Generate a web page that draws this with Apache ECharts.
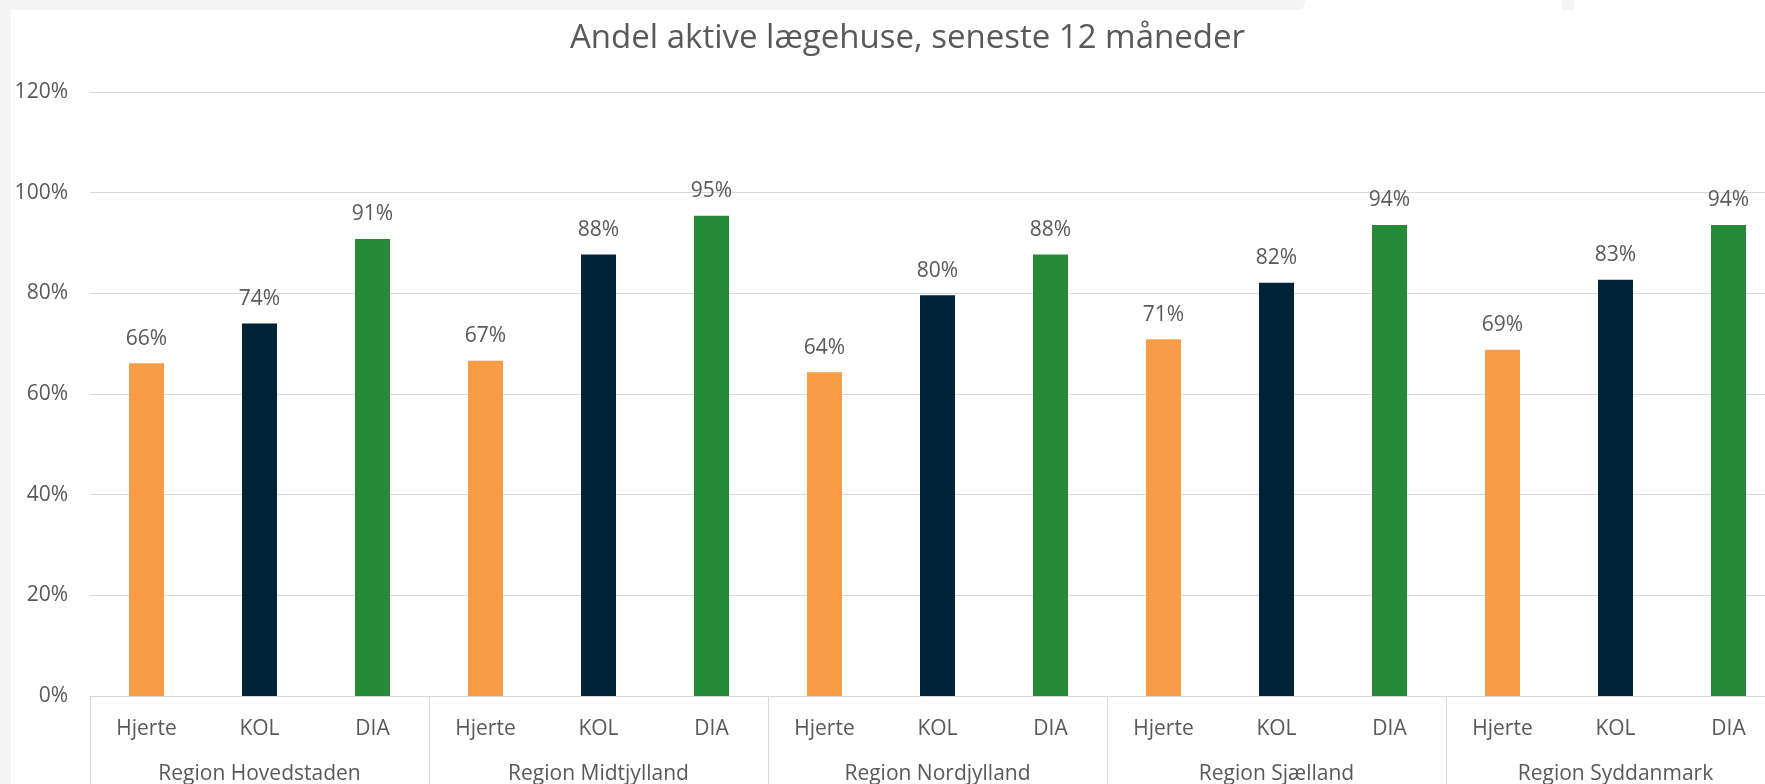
<!DOCTYPE html>
<html>
<head>
<meta charset="utf-8">
<script src="https://cdn.jsdelivr.net/npm/echarts@6/dist/echarts.min.js"></script>
<style>
  html, body { margin: 0; padding: 0; background: #ffffff; }
  #wrap { position: relative; width: 1765px; height: 784px; overflow: hidden; }
  .frame { position: absolute; background: #f4f4f4; }
  #chart { position: absolute; left: 0; top: 0; width: 1765px; height: 784px; }
</style>
</head>
<body>
<div id="wrap">
  <div class="frame" style="left:0;top:0;width:11px;height:784px;"></div>
  <div class="frame" style="left:0;top:0;width:1305px;height:10px;border-bottom-right-radius:8px;"></div>
  <div class="frame" style="left:1562px;top:0;width:12px;height:10px;"></div>
  <div id="chart"></div>
</div>
<script>
const titleText = 'Andel aktive lægehuse, seneste 12 måneder';
const regions = ['Region Hovedstaden', 'Region Midtjylland', 'Region Nordjylland', 'Region Sjælland', 'Region Syddanmark'];
const conditions = ['Hjerte', 'KOL', 'DIA'];
const hjerte = [0.661, 0.666, 0.643, 0.709, 0.688];
const kol    = [0.740, 0.877, 0.796, 0.821, 0.827];
const dia    = [0.908, 0.954, 0.877, 0.936, 0.936];
const yTicks = [0, 0.2, 0.4, 0.6, 0.8, 1.0, 1.2];

const colors = ['#F99C47', '#002338', '#278A38'];
const textColor = '#595959';
const font = 'Open Sans';

const categories = [];
const values = [];
regions.forEach((r, i) => {
  conditions.forEach((c, j) => {
    categories.push(c);
    values.push([hjerte, kol, dia][j][i]);
  });
});

const chart = echarts.init(document.getElementById('chart'), null, { renderer: 'canvas' });
chart.setOption({
  backgroundColor: 'transparent',
  animation: false,
  title: {
    text: titleText,
    left: 565,
    top: 17,
    textStyle: { fontFamily: font, fontSize: 33, fontWeight: 'normal', color: textColor }
  },
  grid: { left: 90, top: 92, width: 1695, height: 604, outerBoundsMode: 'none', containLabel: false },
  xAxis: [
    {
      type: 'category',
      data: categories,
      position: 'bottom',
      axisLine: { show: true, lineStyle: { color: '#d9d9d9', width: 1 } },
      axisTick: { show: false },
      axisLabel: { interval: 0, margin: 23, fontFamily: font, fontSize: 21, lineHeight: 21, color: textColor }
    },
    {
      type: 'category',
      data: regions,
      position: 'bottom',
      axisLine: { show: false },
      axisTick: { show: true, interval: 0, length: 95, lineStyle: { color: '#d9d9d9', width: 1 } },
      axisLabel: { interval: 0, margin: 68, fontFamily: font, fontSize: 21, lineHeight: 21, color: textColor }
    }
  ],
  yAxis: {
    type: 'value',
    min: yTicks[0],
    max: yTicks[yTicks.length - 1],
    interval: 0.2,
    axisLine: { show: false },
    axisTick: { show: false },
    splitLine: { lineStyle: { color: '#d9d9d9', width: 1 } },
    axisLabel: {
      margin: 22,
      fontFamily: font, fontSize: 21, color: textColor,
      formatter: v => Math.round(v * 100) + '%'
    }
  },
  series: [{
    type: 'bar',
    xAxisIndex: 0,
    data: values,
    barWidth: 35,
    itemStyle: { color: p => colors[p.dataIndex % 3] },
    label: {
      show: true,
      position: 'top',
      distance: 14,
      fontFamily: font, fontSize: 21, color: textColor,
      formatter: p => Math.round(p.value * 100) + '%'
    }
  }]
});
</script>
</body>
</html>
